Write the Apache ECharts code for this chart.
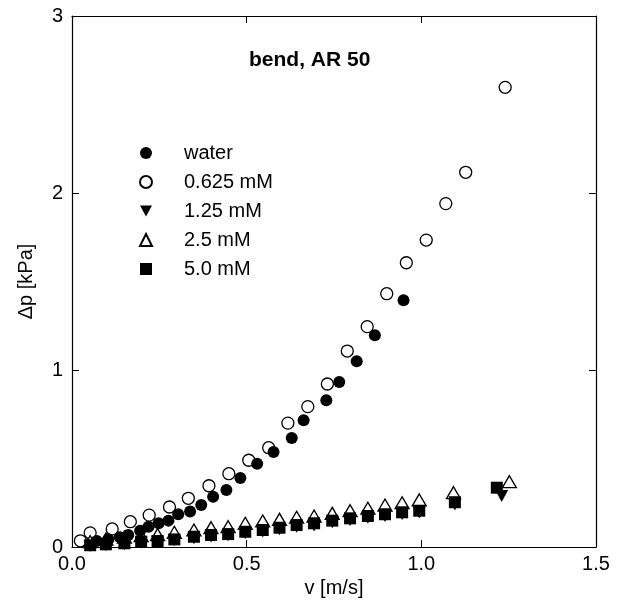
<!DOCTYPE html>
<html>
<head>
<meta charset="utf-8">
<script src="https://cdn.jsdelivr.net/npm/echarts@6/dist/echarts.min.js"></script>
<style>
  html, body { margin: 0; padding: 0; background: #fff; }
  #chart { width: 622px; height: 606px; }
</style>
</head>
<body>
<div id="chart"></div>
<script>
// values, [v in m/s, dp in kPa]
const seriesNames = ["water", "0.625 mM", "1.25 mM", "2.5 mM", "5.0 mM"]
const xTicks = [0, 0.5, 1.0, 1.5]
const yTicks = [0, 1, 2, 3]

const water = [
  [0.071, 0.034], [0.104, 0.044], [0.137, 0.055], [0.161, 0.068], [0.195, 0.092],
  [0.219, 0.115], [0.248, 0.134], [0.276, 0.149], [0.304, 0.185], [0.338, 0.2],
  [0.370, 0.237], [0.404, 0.284], [0.442, 0.322], [0.482, 0.39], [0.530, 0.471],
  [0.577, 0.537], [0.629, 0.616], [0.663, 0.716], [0.728, 0.829], [0.765, 0.932],
  [0.815, 1.049], [0.867, 1.196], [0.949, 1.394]
]

const mM0625 = [
  [0.024, 0.035], [0.052, 0.08], [0.115, 0.102], [0.167, 0.143], [0.221, 0.18],
  [0.279, 0.226], [0.333, 0.275], [0.392, 0.346], [0.449, 0.414], [0.506, 0.49],
  [0.563, 0.561], [0.618, 0.7], [0.675, 0.793], [0.731, 0.921], [0.788, 1.107],
  [0.845, 1.245], [0.901, 1.431], [0.957, 1.606], [1.014, 1.734], [1.070, 1.94],
  [1.127, 2.117], [1.240, 2.597]
]

const mM125 = [
  [0.052, 0.005], [0.097, 0.01], [0.150, 0.016], [0.198, 0.024], [0.245, 0.03],
  [0.293, 0.038], [0.349, 0.05], [0.398, 0.06], [0.447, 0.066], [0.496, 0.078],
  [0.546, 0.088], [0.594, 0.1], [0.643, 0.115], [0.693, 0.122], [0.745, 0.14],
  [0.796, 0.152], [0.847, 0.165], [0.896, 0.175], [0.945, 0.186], [0.994, 0.195],
  [1.096, 0.24], [1.230, 0.288]
]

const mM25 = [
  [0.052, 0.03], [0.097, 0.045], [0.150, 0.055], [0.198, 0.064], [0.245, 0.07],
  [0.293, 0.083], [0.349, 0.096], [0.398, 0.109], [0.447, 0.115], [0.496, 0.134],
  [0.546, 0.147], [0.594, 0.156], [0.643, 0.168], [0.693, 0.175], [0.745, 0.19],
  [0.796, 0.205], [0.847, 0.219], [0.896, 0.237], [0.945, 0.25], [0.994, 0.266],
  [1.092, 0.307], [1.252, 0.369]
]

const mM50 = [
  [0.052, 0.01], [0.097, 0.015], [0.150, 0.021], [0.198, 0.03], [0.245, 0.034],
  [0.293, 0.043], [0.349, 0.058], [0.398, 0.068], [0.447, 0.073], [0.496, 0.086],
  [0.546, 0.096], [0.594, 0.109], [0.643, 0.124], [0.693, 0.134], [0.745, 0.149],
  [0.796, 0.162], [0.847, 0.175], [0.896, 0.185], [0.945, 0.196], [0.994, 0.205],
  [1.096, 0.253], [1.216, 0.335]
]

const chart = echarts.init(document.getElementById("chart"))

const font = "Liberation Sans, Arial, sans-serif"
const downTriangle = "path://M0,0L10,0L5,9Z"

const tickStyle = {
  show: true,
  inside: true,
  length: 7,
  lineStyle: { color: "#000", width: 1 },
}

const baseX = {
  type: "value",
  min: xTicks[0],
  max: xTicks[xTicks.length - 1],
  interval: 0.5,
  axisLine: { show: true, onZero: false, lineStyle: { color: "#000", width: 1.2 } },
  axisTick: tickStyle,
  splitLine: { show: false },
}

const baseY = {
  type: "value",
  min: yTicks[0],
  max: yTicks[yTicks.length - 1],
  interval: 1,
  axisLine: { show: true, onZero: false, lineStyle: { color: "#000", width: 1.2 } },
  axisTick: tickStyle,
  splitLine: { show: false },
}

const option = {
  backgroundColor: "#fff",
  animation: false,
  textStyle: { fontFamily: font },
  title: {
    text: "bend, AR 50",
    left: 244,
    top: 45,
    textStyle: { fontFamily: font, fontSize: 21, fontWeight: "bold", color: "#000" },
  },
  legend: {
    orient: "vertical",
    left: 134,
    top: 138,
    itemWidth: 12,
    itemHeight: 12,
    itemGap: 9,
    data: seriesNames,
    textStyle: {
      fontFamily: font,
      fontSize: 20,
      color: "#000",
      padding: [0, 0, 0, 27],
    },
  },
  grid: { left: 72, right: 26, top: 16, bottom: 59 },
  xAxis: [
    {
      ...baseX,
      position: "bottom",
      name: "v [m/s]",
      nameLocation: "middle",
      nameGap: 27,
      nameTextStyle: { fontFamily: font, fontSize: 20, color: "#000" },
      axisLabel: {
        margin: 7,
        fontFamily: font,
        fontSize: 20,
        color: "#000",
        formatter: (v) => v.toFixed(1),
      },
    },
    { ...baseX, position: "top", axisLabel: { show: false } },
  ],
  yAxis: [
    {
      ...baseY,
      position: "left",
      name: "\u0394p [kPa]",
      nameLocation: "middle",
      nameGap: 36,
      nameTextStyle: { fontFamily: font, fontSize: 20, color: "#000" },
      axisLabel: { margin: 9, fontFamily: font, fontSize: 20, color: "#000" },
    },
    { ...baseY, position: "right", axisLabel: { show: false } },
  ],
  series: [
    {
      name: seriesNames[0],
      type: "scatter",
      data: water,
      symbol: "circle",
      symbolSize: 12,
      z: 3,
      itemStyle: { color: "#000", opacity: 1 },
    },
    {
      name: seriesNames[1],
      type: "scatter",
      data: mM0625,
      symbol: "circle",
      symbolSize: 12,
      z: 2,
      itemStyle: { color: "#fff", borderColor: "#000", borderWidth: 1.3, opacity: 1 },
    },
    {
      name: seriesNames[2],
      type: "scatter",
      data: mM125,
      symbol: downTriangle,
      symbolSize: [13, 12],
      itemStyle: { color: "#000", opacity: 1 },
    },
    {
      name: seriesNames[3],
      type: "scatter",
      data: mM25,
      symbol: "triangle",
      symbolSize: [14, 12],
      itemStyle: { color: "#fff", borderColor: "#000", borderWidth: 1.3, opacity: 1 },
    },
    {
      name: seriesNames[4],
      type: "scatter",
      data: mM50,
      symbol: "rect",
      symbolSize: 12,
      itemStyle: { color: "#000", opacity: 1 },
    },
  ],
}

chart.setOption(option)

window.addEventListener("resize", () => chart.resize())
</script>
</body>
</html>
